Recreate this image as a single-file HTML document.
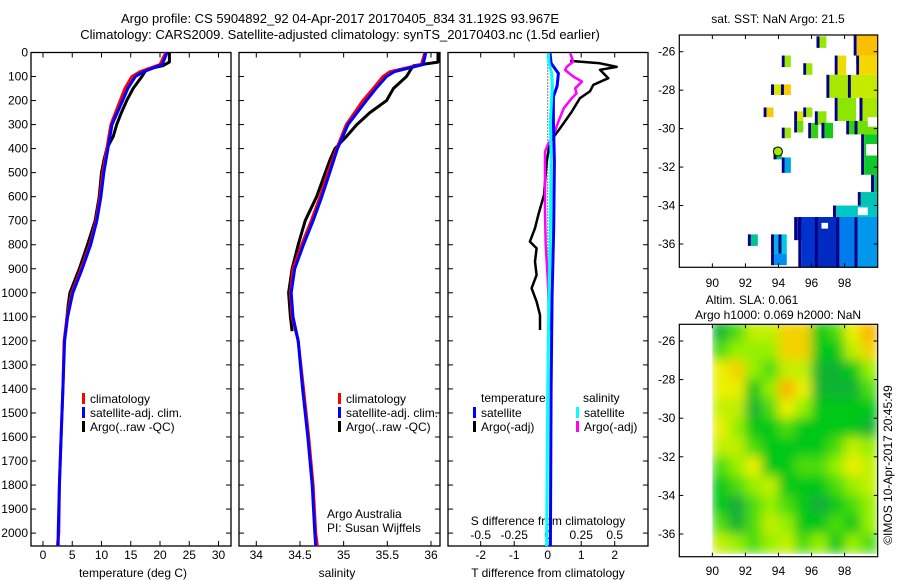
<!DOCTYPE html>
<html><head><meta charset="utf-8">
<style>
html,body{margin:0;padding:0;background:#fff;}
svg{display:block;font-family:"Liberation Sans",sans-serif;}
text{font-size:12px;fill:#000;}
</style></head>
<body>
<svg id="fig" width="900" height="580" viewBox="0 0 900 580" xmlns="http://www.w3.org/2000/svg">
<defs>
<clipPath id="clipSla"><rect x="679.3" y="324.3" width="198.4" height="232.4"/></clipPath>
<filter id="blurSla" x="0" y="0" width="1" height="1"><feGaussianBlur stdDeviation="5.5" edgeMode="duplicate"/></filter>
</defs>
<text x="340" y="23" text-anchor="middle" style="font-size:13px">Argo profile: CS 5904892_92 04-Apr-2017 20170405_834 31.192S 93.967E</text>
<text x="340" y="39" text-anchor="middle" style="font-size:13px">Climatology: CARS2009. Satellite-adjusted climatology: synTS_20170403.nc (1.5d earlier)</text>
<g id="g1"></g>
<g id="g2"></g>
<g id="g3"></g>
<g id="g4"></g>
<g id="g5"></g>
<text transform="translate(892,465) rotate(-90)" text-anchor="middle">©IMOS 10-Apr-2017 20:45:49</text>
</svg>
<script>
// ---------- profile data ----------
const depthTicks=[0,100,200,300,400,500,600,700,800,900,1000,1100,1200,1300,1400,1500,1600,1700,1800,1900,2000];
const climDepth=[0,50,80,100,150,200,300,400,500,600,700,800,900,1000,1100,1200,1400,1600,1800,2000,2054];
const climTemp=[21.0,20.0,16.6,15.2,14.0,13.2,11.6,10.9,10.2,9.74,9.06,8.0,6.5,4.9,4.1,3.6,3.4,3.1,2.8,2.7,2.45];
const satTemp=[21.2,20.4,17.2,15.8,14.5,13.6,11.8,11.1,10.4,9.9,9.2,8.15,6.7,5.1,4.2,3.7,3.4,3.1,2.8,2.6,2.6];
const climSal=[35.93,35.89,35.53,35.45,35.34,35.22,35.03,34.92,34.82,34.73,34.63,34.52,34.42,34.39,34.41,34.48,34.54,34.60,34.65,34.68,34.70];
const satSal=[35.94,35.91,35.58,35.49,35.37,35.26,35.05,34.93,34.84,34.75,34.65,34.54,34.44,34.40,34.42,34.48,34.53,34.59,34.64,34.67,34.68];
const argoDepth=[0,40,55,70,100,150,200,250,300,350,400,450,500,600,700,800,900,1000,1050,1100,1160];
const argoTemp=[21.6,21.6,20.5,17.7,16.9,15.4,14.3,13.4,12.6,12.0,10.9,10.4,10.0,9.6,8.9,7.6,6.2,4.6,4.3,4.1,3.9];
const argoSal=[36.08,36.08,35.80,35.77,35.72,35.57,35.49,35.30,35.15,35.03,34.90,34.84,34.79,34.69,34.56,34.48,34.41,34.37,34.38,34.39,34.41];
// difference panel
const diffArgoDepth=[35,45,60,72,107,135,162,190,246,315,371,454,593,676,731,787,815,870,926,981,1037,1092,1155];
const diffArgoT=[0.67,1.56,2.06,1.56,1.81,1.36,1.26,0.96,0.72,0.37,0.07,-0.03,-0.11,-0.28,-0.38,-0.53,-0.33,-0.38,-0.33,-0.48,-0.33,-0.23,-0.23];
const diffArgoSDepth=[3,38,59,73,100,121,149,170,190,232,287,343,385,413,523,662,800,940,1078,1155];
const diffArgoS=[0.168,0.19,0.143,0.13,0.19,0.256,0.205,0.215,0.18,0.12,0.08,0.045,0.0,-0.02,-0.02,-0.02,-0.015,0.0,0.01,0.02];
const diffSatDepth=[3,45,87,140,184,287,454,731,1009,1400,2054];
const diffSatT=[0.07,0.1,0.32,0.28,0.17,0.17,0.2,0.18,0.13,0.1,0.08];
const diffSatS=[0.005,0.01,0.03,0.035,0.03,0.02,0.025,0.02,0.01,0.0,-0.008];
const tempTicks=[0,5,10,15,20,25,30];
const salTicks=[34,34.5,35,35.5,36];
const tDiffTicks=[-2,-1,0,1,2];
const sDiffTicks=[-0.5,-0.25,0,0.25,0.5];
const sDiffLabels=["-0.5","-0.25","0","0.25","0.5"];

const NS="http://www.w3.org/2000/svg";
function mk(tag,attrs,parent){const e=document.createElementNS(NS,tag);for(const k in attrs)e.setAttribute(k,attrs[k]);if(parent)parent.appendChild(e);return e;}
function txt(parent,x,y,s,anchor){const t=mk('text',{x:x,y:y,'text-anchor':anchor||'start'},parent);t.textContent=s;return t;}

const TOP=52.5,BOT=546;
const yD=d=>TOP+d*0.2403;

function frame(g,x0,x1){
  const r=mk('rect',{x:x0,y:TOP,width:x1-x0,height:BOT-TOP,fill:'none',stroke:'#000','stroke-width':1.3},g);
  
  
  depthTicks.forEach(d=>{
    mk('line',{x1:x0,x2:x0+5,y1:yD(d),y2:yD(d),stroke:'#000'},g);
    mk('line',{x1:x1,x2:x1-5,y1:yD(d),y2:yD(d),stroke:'#000'},g);
  });
}
function xticks(g,xs,labels,ly){
  xs.forEach((x,i)=>{
    mk('line',{x1:x,x2:x,y1:TOP,y2:TOP+5,stroke:'#000'},g);
    mk('line',{x1:x,x2:x,y1:BOT,y2:BOT-5,stroke:'#000'},g);
    const t=txt(g,x,ly,labels[i],'middle');
    
    
  });
}
function line(g,xs,ys,color,w,name,dash){
  const pts=xs.map((x,i)=>x.toFixed(1)+','+ys[i].toFixed(1)).join(' ');
  const p=mk('polyline',{points:pts,fill:'none',stroke:color,'stroke-width':w,'stroke-linejoin':'round'},g);
  if(dash)p.setAttribute('stroke-dasharray',dash);
  
  
}
function legend(g,x,y,color,label){
  mk('rect',{x:x,y:y-10,width:3,height:11,fill:color},g);
  const t=txt(g,x+8,y,label);
  
  
}

// ---- panel 1 temperature
const g1=document.getElementById('g1');
const xT=t=>43+t*5.85;
frame(g1,31,231);
depthTicks.forEach(d=>{const t=txt(g1,28,yD(d)+4,String(d),'end');});
xticks(g1,tempTicks.map(xT),tempTicks.map(String),559);
let at=txt(g1,133,577,'temperature (deg C)','middle');
line(g1,argoTemp.map(xT),argoDepth.map(yD),'#000',3,'argo-temperature-line');
line(g1,climTemp.map(xT),climDepth.map(yD),'#f00',3,'clim-temperature-line');
line(g1,satTemp.map(xT),climDepth.map(yD),'#00f',3,'sat-temperature-line');
legend(g1,82,403,'#f00','climatology');
legend(g1,82,417,'#00f','satellite-adj. clim.');
legend(g1,82,431,'#000','Argo(..raw -QC)');

// ---- panel 2 salinity
const g2=document.getElementById('g2');
const xS=s=>256.3+(s-34)*87.35;
frame(g2,239,440);
xticks(g2,salTicks.map(xS),salTicks.map(String),559);
at=txt(g2,337,577,'salinity','middle');
line(g2,argoSal.map(xS),argoDepth.map(yD),'#000',3,'argo-salinity-line');
line(g2,climSal.map(xS),climDepth.map(yD),'#f00',3,'clim-salinity-line');
line(g2,satSal.map(xS),climDepth.map(yD),'#00f',3,'sat-salinity-line');
legend(g2,338,403,'#f00','climatology');
legend(g2,338,417,'#00f','satellite-adj. clim.');
legend(g2,338,431,'#000','Argo(..raw -QC)');
let c1=txt(g2,327,518,'Argo Australia');
let c2=txt(g2,327,532,'PI: Susan Wijffels');

// ---- panel 3 differences
const g3=document.getElementById('g3');
const xDT=t=>547.7+t*33.5;
const xDS=s=>547.7+s*134;
frame(g3,448,648);
xticks(g3,tDiffTicks.map(xDT),tDiffTicks.map(String),559);
sDiffTicks.forEach((s,i)=>{const t=txt(g3,xDS(s),539,sDiffLabels[i],'middle');});
let st=txt(g3,548,525,'S difference from climatology','middle');
at=txt(g3,548,577,'T difference from climatology','middle');
line(g3,[xDT(0),xDT(0)],[TOP,BOT],'#000',1,'zero-line','1,2');
line(g3,diffArgoT.map(xDT),diffArgoDepth.map(yD),'#000',2.5,'argo-t-diff-line');
line(g3,diffArgoS.map(xDS),diffArgoSDepth.map(yD),'#f0f',2.5,'argo-s-diff-line');
line(g3,diffSatT.map(xDT),diffSatDepth.map(yD),'#00f',3,'sat-t-diff-line');
line(g3,diffSatS.map(xDS),diffSatDepth.map(yD),'#0ff',3,'sat-s-diff-line');
let lt=txt(g3,481,402,'temperature');
let ls=txt(g3,583,402,'salinity');
legend(g3,473,417,'#00f','satellite');
legend(g3,473,431,'#000','Argo(-adj)');
legend(g3,576,417,'#0ff','satellite');
legend(g3,576,431,'#f0f','Argo(-adj)');

// ---------- map data ----------
const lonTicks=[90,92,94,96,98];
const latTicks=[-26,-28,-30,-32,-34,-36];
// SST patches: lon0, lon1, latTop, latBot, value (0 cold .. 4 warm)
const sstLon0=[96.3,94.2,95.5,93.55,94.15,93.1,94.2,94.95,94.95,95.5,95.8,96.2,96.6,93.7,94.2,98.55,97.4,98.7,96.9,98.2,97.4,98.9,98.1,98.6,99.0,99.6,98.8,97.3,94.95,95.2,96.2,97.5,98.6,92.15,93.55,94.0,93.55];
const sstLon1=[96.9,94.75,96.05,94.2,94.75,93.7,94.75,95.5,95.5,96.05,96.4,96.9,97.3,94.2,94.75,100,98.1,100,98.2,100,98.7,100,99.3,100,100,100,100,100,96.2,97.5,98.6,100,100,92.75,94.0,94.5,94.5];
const sstLatT=[-25.2,-26.2,-26.6,-27.7,-27.7,-28.9,-29.95,-29.1,-29.6,-28.9,-29.7,-29.1,-29.7,-31.0,-31.5,-25.1,-26.2,-26.2,-27.2,-27.2,-28.4,-28.4,-29.6,-29.6,-30.3,-32.4,-33.3,-34.0,-34.6,-34.6,-34.6,-34.6,-34.6,-35.5,-35.5,-35.5,-36.5];
const sstLatB=[-25.8,-26.8,-27.2,-28.25,-28.25,-29.4,-30.5,-29.6,-30.2,-29.4,-30.5,-29.8,-30.5,-31.6,-32.3,-26.2,-27.2,-27.2,-28.4,-28.4,-29.6,-29.6,-30.3,-30.3,-32.4,-33.3,-34.0,-34.6,-35.8,-37.2,-37.2,-37.2,-37.2,-36.1,-36.5,-36.5,-37.1];
const sstVal=[2.9,2.9,2.9,3.4,3.8,3.8,2.9,3.4,2.7,2.9,2.5,2.8,2.4,2.0,1.2,3.9,3.6,3.7,3.0,3.2,2.8,3.0,2.5,2.7,2.3,2.0,1.7,1.6,0.2,0.4,0.3,0.9,1.1,1.8,1.3,1.5,1.0];
// Altimetry SLA on 1-deg grid: rows lat -25..-37 (north to south), cols lon 90..99
const slaLons=[90,91,92,93,94,95,96,97,98,99];
const slaLats=[-25,-26,-27,-28,-29,-30,-31,-32,-33,-34,-35,-36];
const slaVals=[
[0.5,1.5,2.5,2.5,3.5,3.5,1.0,1.5,3.0,4.0],
[1.5,2.0,2.0,2.0,3.5,3.5,1.0,1.0,2.5,3.5],
[3.0,3.5,2.0,1.5,2.5,2.5,0.5,0.5,1.0,2.0],
[3.0,3.0,1.0,2.0,4.0,3.0,0.5,0.5,0.5,1.5],
[2.5,2.5,0.5,1.5,3.0,2.0,1.0,1.0,1.0,1.0],
[3.0,2.0,1.0,1.0,1.5,1.0,1.0,1.0,1.0,0.5],
[2.5,2.5,1.5,1.0,1.0,1.0,1.0,1.5,2.5,2.0],
[1.5,2.0,3.0,1.0,1.0,1.5,1.5,2.0,3.0,2.5],
[1.0,1.5,2.0,2.5,1.0,1.0,1.0,1.5,2.0,2.5],
[1.0,0.3,1.5,2.0,1.5,1.0,0.3,1.0,1.5,2.0],
[1.5,0.5,1.5,2.5,2.0,1.0,1.0,1.5,1.0,2.0],
[2.5,2.0,1.5,2.0,2.5,1.5,2.0,1.0,2.0,1.5]];

function lerpColor(stops,v){
  if(v<=stops[0][0])return 'rgb('+stops[0][1].join(',')+')';
  for(let i=1;i<stops.length;i++){
    if(v<=stops[i][0]){const a=stops[i-1],b=stops[i];const f=(v-a[0])/(b[0]-a[0]);
      const ca=a[1],cb=b[1];return 'rgb('+[0,1,2].map(k=>Math.round(ca[k]+(cb[k]-ca[k])*f)).join(',')+')';}
  }
  return 'rgb('+stops[stops.length-1][1].join(',')+')';
}
const sstStops=[[0,[0,16,150]],[0.5,[0,60,220]],[1,[0,140,240]],[1.5,[0,200,220]],[2,[0,190,110]],[2.4,[20,205,20]],[2.8,[140,230,0]],[3.3,[210,235,0]],[3.7,[245,215,0]],[4,[250,180,0]]];
const slaStops=[[0,[30,160,80]],[1,[0,200,20]],[2,[150,240,0]],[3,[235,240,0]],[4,[250,180,0]]];

function mapAxes(g,x0,x1,y0,y1,lonX,latY,lblY){
  const r=mk('rect',{x:x0,y:y0,width:x1-x0,height:y1-y0,fill:'none',stroke:'#000','stroke-width':1.2},g);
  
  
  lonTicks.forEach(l=>{const x=lonX(l);
    mk('line',{x1:x,x2:x,y1:y0,y2:y0+4,stroke:'#000'},g);mk('line',{x1:x,x2:x,y1:y1,y2:y1-4,stroke:'#000'},g);
    const t=txt(g,x,lblY,String(l),'middle');});
  latTicks.forEach(l=>{const y=latY(l);
    mk('line',{x1:x0,x2:x0+4,y1:y,y2:y,stroke:'#000'},g);mk('line',{x1:x1,x2:x1-4,y1:y,y2:y,stroke:'#000'},g);
    const t=txt(g,x0-4,y+4,String(l),'end');});
}

// ---- SST map
const g4=document.getElementById('g4');
const mX=l=>679.3+(l-88)*16.53;
const sY=l=>51.7+(-26-l)*19.23;
sstVal.forEach((v,i)=>{
  const x0=mX(sstLon0[i]),x1=mX(sstLon1[i]),y0=sY(sstLatT[i]),y1=sY(sstLatB[i]);
  const bg=mk('rect',{x:x0,y:y0,width:Math.min(3,x1-x0),height:y1-y0,fill:'#000080'},g4);
  
  
  const c=mk('rect',{x:x0+3,y:y0,width:Math.max(0,x1-x0-3),height:y1-y0,fill:lerpColor(sstStops,v)},g4);
  
  
});
// holes
[[98.1,98.7,-26.6,-27.2],[99.4,100,-29.4,-29.9],[99.3,100,-30.8,-31.4],[98.8,99.4,-34.1,-34.5],[96.6,97.0,-34.9,-35.2]].forEach(h=>{
  const r=mk('rect',{x:mX(h[0]),y:sY(h[2]),width:mX(h[1])-mX(h[0]),height:sY(h[3])-sY(h[2]),fill:'#fff'},g4);
  
  
});
const fl=mk('circle',{cx:mX(93.967),cy:sY(-31.192),r:4.5,fill:lerpColor(sstStops,3.0),stroke:'#000','stroke-width':1},g4);


mapAxes(g4,679.3,877.7,35,267.3,mX,sY,287);
let mt=txt(g4,778,23,'sat. SST: NaN Argo: 21.5','middle');

// ---- SLA map
const g5=document.getElementById('g5');
const aY=l=>341+(-26-l)*19.3;
const clipG=mk('g',{'clip-path':'url(#clipSla)'},g5);
const blurG=mk('g',{filter:'url(#blurSla)'},clipG);
slaVals.forEach((row,r)=>row.forEach((v,c)=>{
  const x0=mX(slaLons[c]),y0=aY(slaLats[r]);
  const cell=mk('rect',{x:x0-0.3,y:y0-0.3,width:mX(slaLons[c]+1)-x0+0.6,height:aY(slaLats[r]-1)-y0+0.6,fill:lerpColor(slaStops,v)},blurG);
  
  
}));
const wm=mk('rect',{x:679.3,y:324.3,width:mX(90)-679.3,height:232.4,fill:'#fff'},g5);


mk('rect',{x:679.3,y:554,width:198.4,height:3,fill:'#fff'},g5);
mapAxes(g5,679.3,877.7,324.3,556.7,mX,aY,575);
let s1=txt(g5,752,304,'Altim. SLA: 0.061','middle');
let s2=txt(g5,778,319,'Argo h1000: 0.069 h2000: NaN','middle');
</script>
</body></html>
